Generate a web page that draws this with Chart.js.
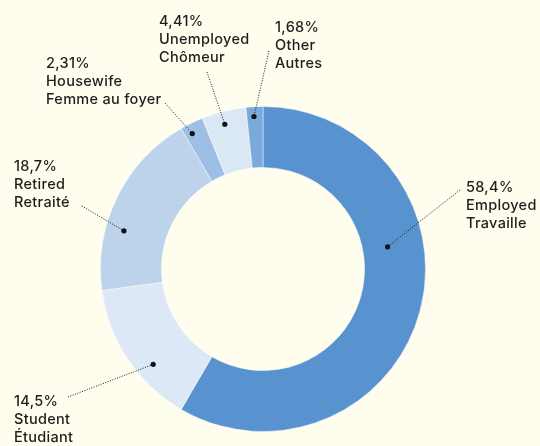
<!DOCTYPE html>
<html>
<head>
<meta charset="utf-8">
<title>Occupation</title>
<script src="https://cdn.jsdelivr.net/npm/chart.js@4.4.1/dist/chart.umd.min.js"></script>
<style>
  html, body { margin: 0; padding: 0; background: #fffdee; }
  #wrap { width: 540px; height: 446px; position: relative; }
</style>
</head>
<body>
<div id="wrap"><canvas id="donut"></canvas></div>
<script>
  // occupation shares, clockwise from the top
  const labelsEn = ['Employed', 'Student', 'Retired', 'Housewife', 'Unemployed', 'Other'];
  const labelsFr = ['Travaille', 'Étudiant', 'Retraité', 'Femme au foyer', 'Chômeur', 'Autres'];
  const shares = [58.4, 14.5, 18.7, 2.31, 4.41, 1.68];

  const colors = ['#5893d0', '#dce8f5', '#bcd3eb', '#9cbfe3', '#dae7f4', '#7aaadb'];

  // where each callout sits: dot position inside its slice (angle fraction, ring fraction),
  // the end of the dotted leader, and the top-left of the text block
  const callouts = [
    { af: 0.38, rf: 0.41, lx: 460, ly: 190, tx: 466, ty: 188 },
    { af: 0.36, rf: 0.72, lx: 68,  ly: 397, tx: 14,  ty: 402 },
    { af: 0.34, rf: 0.70, lx: 82,  ly: 206, tx: 14,  ty: 167 },
    { af: 0.32, rf: 0.84, lx: 165, ly: 103, tx: 46,  ty: 64 },
    { af: 0.45, rf: 0.79, lx: 207, ly: 72,  tx: 159, ty: 22 },
    { af: 0.44, rf: 0.84, lx: 269, ly: 51,  tx: 275, ty: 28 }
  ];

  function pct(v) {
    return String(v).replace('.', ',') + '%';
  }

  const calloutPlugin = {
    id: 'callouts',
    afterDatasetsDraw(chart) {
      const ctx = chart.ctx;
      const arcs = chart.getDatasetMeta(0).data;
      ctx.save();
      arcs.forEach((arc, i) => {
        const p = arc.getProps(['x', 'y', 'startAngle', 'endAngle', 'innerRadius', 'outerRadius'], true);
        const c = callouts[i];
        const a = p.startAngle + c.af * (p.endAngle - p.startAngle);
        const r = p.innerRadius + c.rf * (p.outerRadius - p.innerRadius);
        const dx = p.x + Math.cos(a) * r;
        const dy = p.y + Math.sin(a) * r;

        // dotted leader
        ctx.strokeStyle = '#1b1b1b';
        ctx.lineWidth = 1;
        ctx.setLineDash([1, 1.5]);
        ctx.beginPath();
        ctx.moveTo(c.lx, c.ly);
        ctx.lineTo(dx, dy);
        ctx.stroke();
        ctx.setLineDash([]);

        ctx.fillStyle = '#111';
        ctx.beginPath();
        ctx.arc(dx, dy, 2.6, 0, Math.PI * 2);
        ctx.fill();

        // three-line label
        ctx.fillStyle = '#1e1e1e';
        ctx.font = '500 14.5px Inter, "Noto Sans", sans-serif';
        ctx.letterSpacing = '0.3px';
        ctx.textBaseline = 'middle';
        ctx.textAlign = 'left';
        const lines = [pct(shares[i]), labelsEn[i], labelsFr[i]];
        lines.forEach((t, k) => ctx.fillText(t, c.tx, c.ty + k * 18));
      });
      ctx.restore();
    }
  };

  new Chart(document.getElementById('donut'), {
    type: 'doughnut',
    data: {
      labels: labelsEn,
      datasets: [{
        data: shares,
        backgroundColor: colors,
        borderColor: 'rgba(255,255,255,0.45)',
        borderWidth: 1
      }]
    },
    options: {
      responsive: true,
      maintainAspectRatio: false,
      animation: false,
      cutout: '62.5%',
      layout: { padding: { top: 106, bottom: 14, left: 0, right: 14 } },
      plugins: {
        legend: { display: false },
        tooltip: { enabled: false }
      }
    },
    plugins: [calloutPlugin]
  });
</script>
</body>
</html>
